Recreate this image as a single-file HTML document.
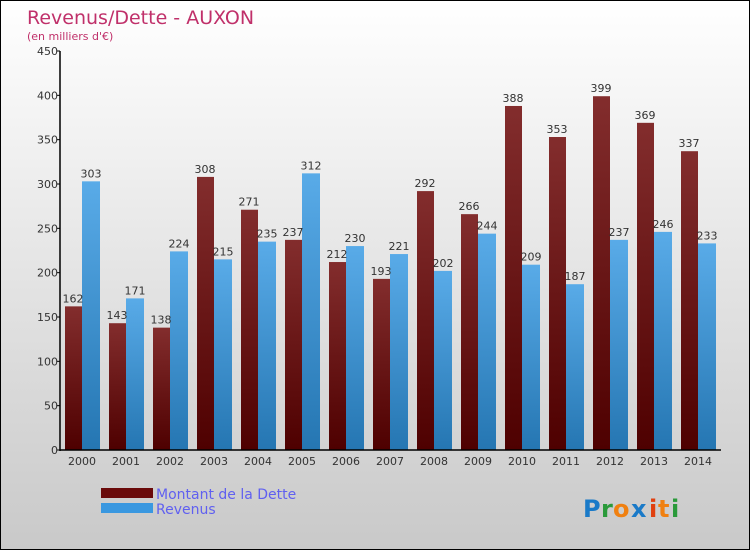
<!DOCTYPE html>
<html><head><meta charset="utf-8"><style>
body{margin:0;}
#c{width:748px;height:548px;border:1px solid #000;background:linear-gradient(#fff,#c9c9c9);position:relative;font-family:"DejaVu Sans","Liberation Sans",sans-serif;overflow:hidden}
text{font-family:"DejaVu Sans","Liberation Sans",sans-serif}
</style></head><body>
<div id="c">
<svg id="s" width="748" height="548">
<defs>
<linearGradient id="gd" x1="0" y1="0" x2="0" y2="1"><stop offset="0" stop-color="#832d2d"/><stop offset="1" stop-color="#4e0000"/></linearGradient>
<linearGradient id="gr" x1="0" y1="0" x2="0" y2="1"><stop offset="0" stop-color="#59abe8"/><stop offset="1" stop-color="#2576b2"/></linearGradient>
</defs>
<text x="26" y="23" font-size="19" fill="#c0306a">Revenus/Dette - AUXON</text>
<text x="26" y="39" font-size="11" fill="#c0306a">(en milliers d'€)</text>
<g id="bars"></g>
<g id="axes"></g>
<rect x="100" y="487" width="52" height="10" fill="#6a0a0a"/>
<rect x="100" y="502" width="52" height="10" fill="#3a98e0"/>
<text x="155" y="498" font-size="14" fill="#6060f0">Montant de la Dette</text>
<text x="155" y="513" font-size="14" fill="#6060f0">Revenus</text>
<g font-size="24" font-weight="bold">
<text x="582" y="516" fill="#1a7ac8">P</text><text x="600" y="516" fill="#2a9a3a">r</text><text x="612" y="516" fill="#f08010">o</text><text x="630" y="516" fill="#1a7ac8">x</text><text x="648" y="516" fill="#e04010">i</text><text x="657" y="516" fill="#f08010">t</text><text x="670" y="516" fill="#2a9a3a">i</text>
</g>
</svg>
</div>
<script>
const years=["2000","2001","2002","2003","2004","2005","2006","2007","2008","2009","2010","2011","2012","2013","2014"];
const dette=[162,143,138,308,271,237,212,193,292,266,388,353,399,369,337];
const revenus=[303,171,224,215,235,312,230,221,202,244,209,187,237,246,233];
const ticks=[0,50,100,150,200,250,300,350,400,450];
const NS="http://www.w3.org/2000/svg";
const x0=59,band=44,y0=449,yTop=50,vmax=450;
const y=v=>y0-(v/vmax)*(y0-yTop);
const bx=i=>x0+i*band;
const bars=document.getElementById('bars'),axes=document.getElementById('axes');
function mk(t,a,p){const e=document.createElementNS(NS,t);for(const k in a)e.setAttribute(k,a[k]);p.appendChild(e);return e;}
years.forEach((yr,i)=>{
  const d=mk('rect',{x:bx(i)+5,y:y(dette[i]),width:17,height:y0-y(dette[i]),fill:'url(#gd)'},bars);
  
  
  const r=mk('rect',{x:bx(i)+22,y:y(revenus[i]),width:18,height:y0-y(revenus[i]),fill:'url(#gr)'},bars);
  
  
  const t1=mk('text',{x:bx(i)+13,y:y(dette[i])-4,'font-size':11,fill:'#333','text-anchor':'middle'},bars);
  t1.textContent=dette[i];
  
  
  const t2=mk('text',{x:bx(i)+31,y:y(revenus[i])-4,'font-size':11,fill:'#333','text-anchor':'middle'},bars);
  t2.textContent=revenus[i];
  
  
  const xl=mk('text',{x:bx(i)+22,y:y0+15,'font-size':11,fill:'#333','text-anchor':'middle'},axes);
  xl.textContent=yr;
  
  
});
const ya=mk('line',{x1:x0,y1:yTop,x2:x0,y2:y0+1,stroke:'#000','stroke-width':1.5},axes);


const xa=mk('line',{x1:x0,y1:y0,x2:x0+15*band+1,y2:y0,stroke:'#000','stroke-width':1.5},axes);


ticks.forEach(v=>{
  mk('line',{x1:x0-3,y1:y(v),x2:x0,y2:y(v),stroke:'#000'},axes);
  const t=mk('text',{x:x0-2,y:y(v)+4,'font-size':11,fill:'#333','text-anchor':'end'},axes);
  t.textContent=v;
  
  
});
</script>
</body></html>
